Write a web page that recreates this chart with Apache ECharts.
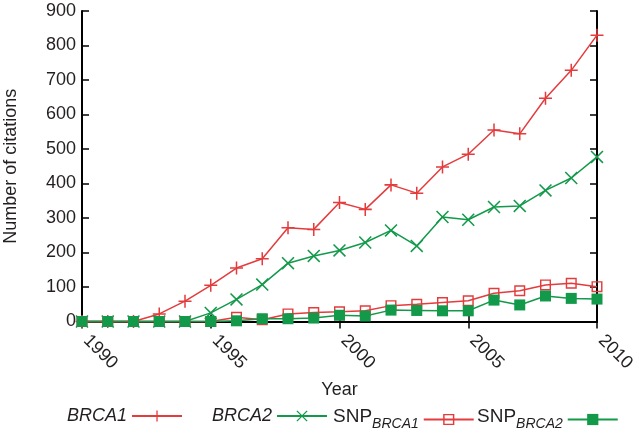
<!DOCTYPE html>
<html>
<head>
<meta charset="utf-8">
<script src="https://cdn.jsdelivr.net/npm/echarts@6/dist/echarts.min.js"></script>
<style>
html,body{margin:0;padding:0;background:#fff;}
#c{width:639px;height:430px;}
</style>
</head>
<body>
<div id="c"></div>
<script>
var years = [1990,1991,1992,1993,1994,1995,1996,1997,1998,1999,2000,2001,2002,2003,2004,2005,2006,2007,2008,2009,2010];
var brca1 = [0,0,0,22,59,105,155,182,272,267,345,325,396,372,448,485,555,544,647,728,830];
var brca2 = [0,0,0,0,0,25,64,107,169,190,206,229,264,219,303,295,332,335,380,416,477];
var snpBrca1 = [0,0,0,0,0,0,12,5,22,26,28,31,46,50,55,60,82,89,106,111,101];
var snpBrca2 = [0,0,0,0,0,0,2,8,8,10,18,16,33,32,31,31,62,48,74,67,65];
var xTicks = [1990,1995,2000,2005,2010];
var yTicks = [0,100,200,300,400,500,600,700,800,900];

var RED = '#e43b3d', GREEN = '#12994a', TXT = '#231f20';
var FONT = 'Liberation Sans, Arial, sans-serif';

function pairs(v){ return years.map(function(y,i){ return [y, v[i]]; }); }

var plusPath = 'path://M0,5.3H12V6.7H0Z M5.3,0H6.7V12H5.3Z';
var crossPath = 'path://M0,1L1,0L12,11L11,12Z M11,0L12,1L1,12L0,11Z';
var openSq = 'path://M0,0H10V10H0Z M1.3,1.3V8.7H8.7V1.3Z';

function mkSeries(name, data, color, symbol, size){
  return {
    name: name, type: 'line', data: pairs(data),
    symbol: symbol, symbolSize: size, showAllSymbol: true,
    clip: false, animation: false,
    lineStyle: {color: color, width: 1.5},
    itemStyle: {color: color, borderWidth: 0, opacity: 1},
    emphasis: {disabled: true}
  };
}

function mkLegend(name, left, fmt, rich){
  return {
    data: [name], left: left, top: 407, align: 'right', orient: 'horizontal',
    padding: 0,
    itemWidth: 50, itemHeight: 14, itemGap: 0, selectedMode: false,
    formatter: fmt,
    textStyle: {fontFamily: FONT, fontSize: 18, color: TXT, rich: rich}
  };
}

var richBase = {
  i: {fontFamily: FONT, fontSize: 18, fontStyle: 'italic', color: TXT, lineHeight: 26},
  n: {fontFamily: FONT, fontSize: 19, color: TXT, lineHeight: 20, padding: [0,0,6,0]},
  s: {fontFamily: FONT, fontSize: 14, fontStyle: 'italic', color: TXT, lineHeight: 14, padding: [10,0,0,0]}
};

var option = {
  backgroundColor: '#fff',
  animation: false,
  grid: {left: 82, right: 42, top: 11, bottom: 108.5, containLabel: false, outerBoundsMode: 'none'},
  xAxis: [{
    type: 'value', min: 1990, max: 2010, interval: 5,
    name: 'Year', nameLocation: 'middle', nameGap: 60,
    nameTextStyle: {fontFamily: FONT, fontSize: 18, color: TXT},
    axisLine: {lineStyle: {color: '#000', width: 2}},
    axisTick: {inside: true, length: 7, lineStyle: {color: '#000', width: 1.5}},
    axisLabel: {rotate: -45, fontFamily: FONT, fontSize: 18, color: TXT, margin: 12,
      padding: [0,0,0,6],
      formatter: function(v){ return xTicks.indexOf(v) >= 0 ? String(v) : ''; }},
    splitLine: {show: false}
  },{
    type: 'value', min: 1990, max: 2010, interval: 5, position: 'top',
    axisLine: {lineStyle: {color: '#000', width: 2}},
    axisTick: {inside: true, length: 7, lineStyle: {color: '#000', width: 1.5}},
    axisLabel: {show: false}, splitLine: {show: false}
  }],
  yAxis: [{
    type: 'value', min: 0, max: 900, interval: 100,
    name: 'Number of citations', nameLocation: 'middle', nameGap: 62,
    nameTextStyle: {fontFamily: FONT, fontSize: 18, color: TXT},
    axisLine: {show: true, lineStyle: {color: '#000', width: 2}},
    axisTick: {show: true, inside: true, length: 7, lineStyle: {color: '#000', width: 1.5}},
    axisLabel: {fontFamily: FONT, fontSize: 18, color: TXT, margin: 6,
      formatter: function(v){ return yTicks.indexOf(v) >= 0 ? String(v) : ''; }},
    splitLine: {show: false}
  },{
    type: 'value', min: 0, max: 900, interval: 100, position: 'right',
    axisLine: {show: true, lineStyle: {color: '#000', width: 2}},
    axisTick: {show: true, inside: true, length: 7, lineStyle: {color: '#000', width: 1.5}},
    axisLabel: {show: false}, splitLine: {show: false}
  }],
  legend: [
    mkLegend('BRCA1', 67, '{i|BRCA1}', richBase),
    mkLegend('BRCA2', 212, '{i|BRCA2}', richBase),
    mkLegend('SNP_BRCA1', 333, '{n|SNP}{s|BRCA1}', richBase),
    mkLegend('SNP_BRCA2', 477, '{n|SNP}{s|BRCA2}', richBase)
  ],
  series: [
    mkSeries('BRCA1', brca1, RED, plusPath, 13),
    mkSeries('BRCA2', brca2, GREEN, crossPath, 13),
    mkSeries('SNP_BRCA1', snpBrca1, RED, openSq, 11),
    mkSeries('SNP_BRCA2', snpBrca2, GREEN, 'rect', 11)
  ]
};

var chart = echarts.init(document.getElementById('c'), null, {renderer: 'canvas'});
chart.setOption(option);
</script>
</body>
</html>
